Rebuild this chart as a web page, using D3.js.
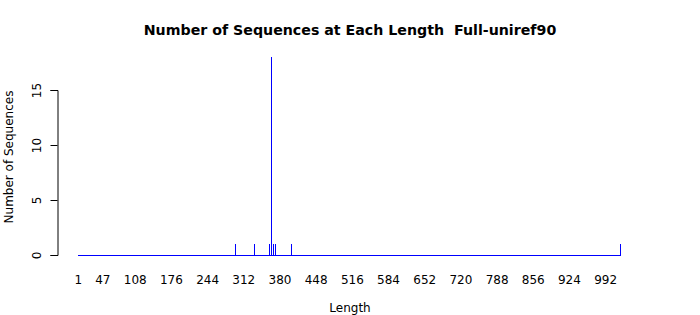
<!DOCTYPE html>
<html>
<head>
<meta charset="utf-8">
<script src="https://cdn.jsdelivr.net/npm/d3@7"></script>
<style>
  body { margin: 0; background: #fff; }
  svg { display: block; font-family: "DejaVu Sans", sans-serif; }
</style>
</head>
<body>
<svg width="700" height="315"></svg>
<script>
// sequence lengths that occur, and how many sequences have each
const lengths = [297, 333, 360, 364, 365, 367, 371, 401, 1019];
const counts  = [1, 1, 1, 18, 2, 1, 1, 1, 1];
const minLength = 1;
const maxLength = 1019;
const xTickLabels = [1, 47, 108, 176, 244, 312, 380, 448, 516, 584, 652, 720, 788, 856, 924, 992];
const yTicks = [0, 5, 10, 15];

const svg = d3.select('svg');

const allLengths = d3.range(minLength, maxLength + 1);
const x = d3.scalePoint()
    .domain(allLengths)
    .range([78.3, 620]);

const y = d3.scaleLinear()
    .domain([0, 15])
    .range([255, 90]);

const px = v => Math.floor(x(v));

// zero-height bars all sit on the baseline
svg.append('rect')
    .attr('x', px(minLength))
    .attr('width', px(maxLength) - px(minLength) + 1)
    .attr('y', y(0))
    .attr('height', 1)
    .attr('fill', '#0000ff')
    .attr('shape-rendering', 'crispEdges');

const bars = lengths.map((l, i) => ({ length: l, count: counts[i] }));

svg.append('g')
    .attr('class', 'bars')
    .selectAll('rect')
    .data(bars)
    .enter()
    .append('rect')
    .attr('x', d => px(d.length))
    .attr('width', 1)
    .attr('y', d => y(d.count))
    .attr('height', d => y(0) - y(d.count) + 1)
    .attr('fill', '#0000ff')
    .attr('shape-rendering', 'crispEdges');

// y axis, R style
const yAxis = d3.axisLeft(y).tickValues(yTicks).tickSize(7);
const gy = svg.append('g')
    .attr('transform', 'translate(57.5,0)')
    .call(yAxis);
gy.select('.domain').attr('stroke', '#000');
gy.selectAll('.tick line').attr('stroke', '#000');
gy.selectAll('.tick text')
    .attr('font-size', 12)
    .attr('font-family', '"DejaVu Sans", sans-serif')
    .attr('fill', '#000')
    .attr('x', null)
    .attr('transform', 'translate(-21,0) rotate(-90)')
    .attr('dy', '0.35em')
    .attr('text-anchor', 'middle');

// x tick labels (no axis line)
svg.append('g')
    .selectAll('text')
    .data(xTickLabels)
    .enter()
    .append('text')
    .attr('x', d => x(d))
    .attr('y', 283.5)
    .attr('text-anchor', 'middle')
    .attr('font-size', 12)
    .text(d => d);

// titles
svg.append('text')
    .attr('x', 350)
    .attr('y', 35)
    .attr('text-anchor', 'middle')
    .attr('font-size', 14.2)
    .attr('font-weight', 'bold')
    .style('white-space', 'pre')
    .text('Number of Sequences at Each Length  Full-uniref90');

svg.append('text')
    .attr('x', 350)
    .attr('y', 312)
    .attr('text-anchor', 'middle')
    .attr('font-size', 12)
    .text('Length');

svg.append('text')
    .attr('transform', 'translate(13,157) rotate(-90)')
    .attr('text-anchor', 'middle')
    .attr('font-size', 12)
    .text('Number of Sequences');
</script>
</body>
</html>
